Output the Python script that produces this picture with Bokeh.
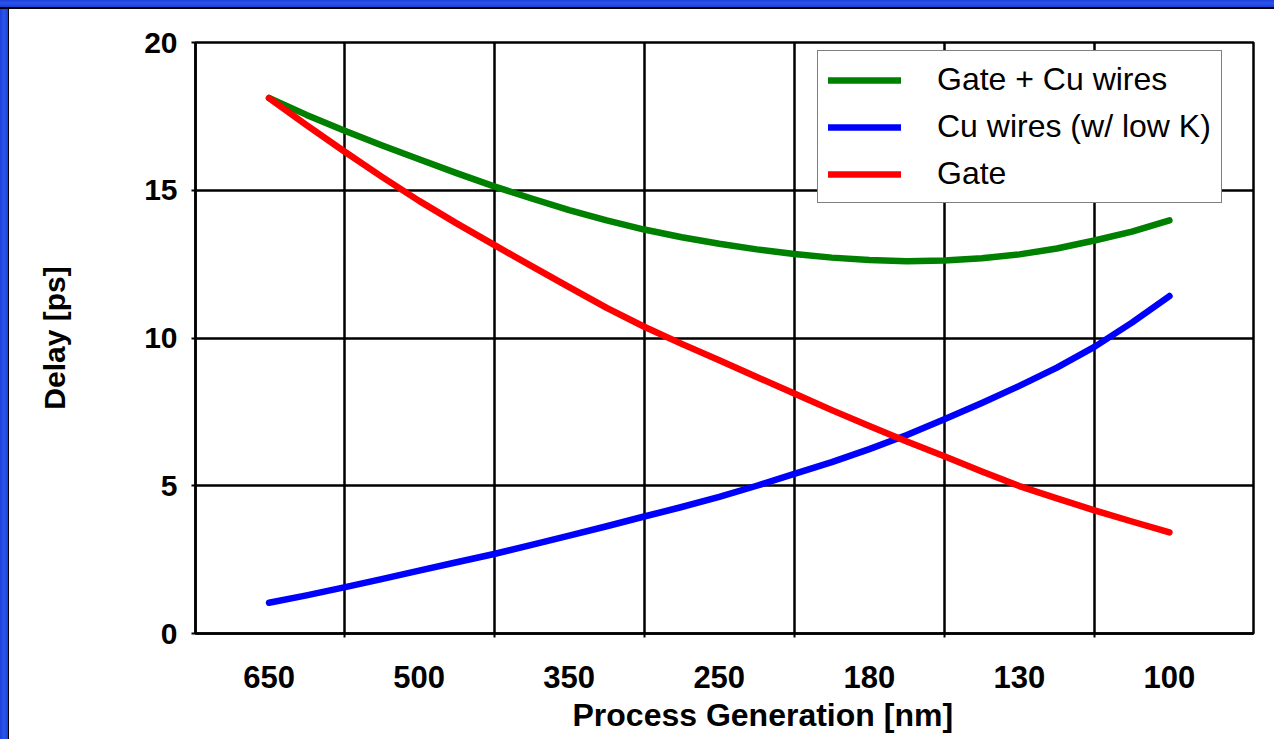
from bokeh.plotting import figure
from bokeh.models import FixedTicker, Legend, LegendItem, Title, ColumnDataSource
from bokeh.embed import file_html
from bokeh.resources import INLINE

# ---- data ----
categories = ["650", "500", "350", "250", "180", "130", "100"]
cat_pos = [0, 1, 2, 3, 4, 5, 6]
t = [0, 0.25, 0.5, 0.75, 1, 1.25, 1.5, 1.75, 2, 2.25, 2.5, 2.75, 3,
     3.25, 3.5, 3.75, 4, 4.25, 4.5, 4.75, 5, 5.25, 5.5, 5.75, 6]
gate_cu = [18.12, 17.55, 17.02, 16.52, 16.05, 15.58, 15.13, 14.72, 14.33, 13.98, 13.67, 13.41, 13.19,
           13.0, 12.84, 12.72, 12.64, 12.6, 12.62, 12.7, 12.83, 13.03, 13.3, 13.6, 13.98]
cu_wires = [1.04, 1.29, 1.56, 1.84, 2.13, 2.41, 2.69, 3.0, 3.31, 3.63, 3.96, 4.28, 4.62,
            5.0, 5.4, 5.8, 6.24, 6.72, 7.25, 7.8, 8.38, 9.0, 9.7, 10.52, 11.42]
gate = [18.12, 17.2, 16.32, 15.46, 14.64, 13.88, 13.15, 12.43, 11.72, 11.02, 10.38, 9.8, 9.25,
        8.68, 8.12, 7.56, 7.02, 6.5, 6.0, 5.48, 4.99, 4.57, 4.17, 3.79, 3.42]
y_ticks = [0, 5, 10, 15, 20]
series_names = ["Gate + Cu wires", "Cu wires (w/ low K)", "Gate"]
series_colors = ["#008000", "#0000ff", "#ff0000"]

FONT = "Liberation Sans"
BLUE = "#1d3fd6"

src = ColumnDataSource(dict(t=t, g=gate_cu, c=cu_wires, r=gate))

page_bg = ("linear-gradient(to bottom, {b} 0px, #2a55f0 3px, {b} 7px, #000 7px, #000 8.5px, transparent 8.5px), "
           "linear-gradient(to right, {b} 0px, #2a55f0 4px, {b} 8px, #000 8px, #000 9.5px, #ffffff 9.5px)").format(b=BLUE)

p = figure(width=1274, height=739, output_backend="svg", toolbar_location=None,
           x_range=(-0.49, 6.56), y_range=(0, 20),
           min_border_left=195, min_border_top=42, min_border_right=21, min_border_bottom=106,
           background_fill_color="white", border_fill_color=None,
           styles={"background": page_bg})

rg = p.line("t", "g", source=src, line_color=series_colors[0], line_width=6.5, line_cap="round", line_join="round")
rc = p.line("t", "c", source=src, line_color=series_colors[1], line_width=6.5, line_cap="round", line_join="round")
rr = p.line("t", "r", source=src, line_color=series_colors[2], line_width=6.5, line_cap="round", line_join="round")

p.outline_line_color = "black"
p.outline_line_width = 2.5

# x axis
xa = p.xaxis[0]
xa.ticker = FixedTicker(ticks=cat_pos, minor_ticks=[v + 0.5 for v in cat_pos[:-1]])
xa.major_label_overrides = {v: c for v, c in zip(cat_pos, categories)}
xa.major_tick_out = 0
xa.major_tick_in = 0
xa.minor_tick_out = 4
xa.minor_tick_in = 0
xa.minor_tick_line_color = "black"
xa.minor_tick_line_width = 2
xa.axis_line_width = 2.5
xa.axis_line_color = "black"
xa.major_label_text_font = FONT
xa.major_label_text_font_style = "bold"
xa.major_label_text_font_size = "31px"
xa.major_label_text_color = "black"
xa.major_label_standoff = 28

# y axis
ya = p.yaxis[0]
ya.ticker = FixedTicker(ticks=y_ticks, minor_ticks=[])
ya.major_tick_out = 4
ya.major_tick_in = 0
ya.major_tick_line_width = 2
ya.major_tick_line_color = "black"
ya.axis_line_width = 2.5
ya.axis_line_color = "black"
ya.major_label_text_font = FONT
ya.major_label_text_font_style = "bold"
ya.major_label_text_font_size = "30px"
ya.major_label_text_color = "black"
ya.major_label_standoff = 14
ya.axis_label = "Delay [ps]"
ya.axis_label_text_font = FONT
ya.axis_label_text_font_style = "bold"
ya.axis_label_text_font_size = "30px"
ya.axis_label_text_color = "black"
ya.axis_label_standoff = 70

# grids
p.xgrid.ticker = FixedTicker(ticks=[v + 0.5 for v in cat_pos[:-1]])
p.ygrid.ticker = FixedTicker(ticks=y_ticks)
for g in (p.xgrid[0], p.ygrid[0]):
    g.grid_line_color = "black"
    g.grid_line_width = 2.5
    g.grid_line_alpha = 1

# x title
p.add_layout(Title(text="Process Generation [nm]", align="left", offset=377,
                   text_font=FONT, text_font_style="bold", text_font_size="32px",
                   text_color="black", standoff=8), "below")

legend = Legend(items=[LegendItem(label=series_names[0], renderers=[rg]),
                       LegendItem(label=series_names[1], renderers=[rc]),
                       LegendItem(label=series_names[2], renderers=[rr])],
                location=(622, 430),
                border_line_color="black", border_line_width=1.5,
                background_fill_color="white", background_fill_alpha=1,
                label_text_font=FONT, label_text_font_size="32px", label_text_color="black",
                glyph_width=73, glyph_height=30, label_height=30, spacing=10,
                label_standoff=36, padding=10, margin=0)
p.add_layout(legend)

open("out.html", "w").write(file_html(p, INLINE))
